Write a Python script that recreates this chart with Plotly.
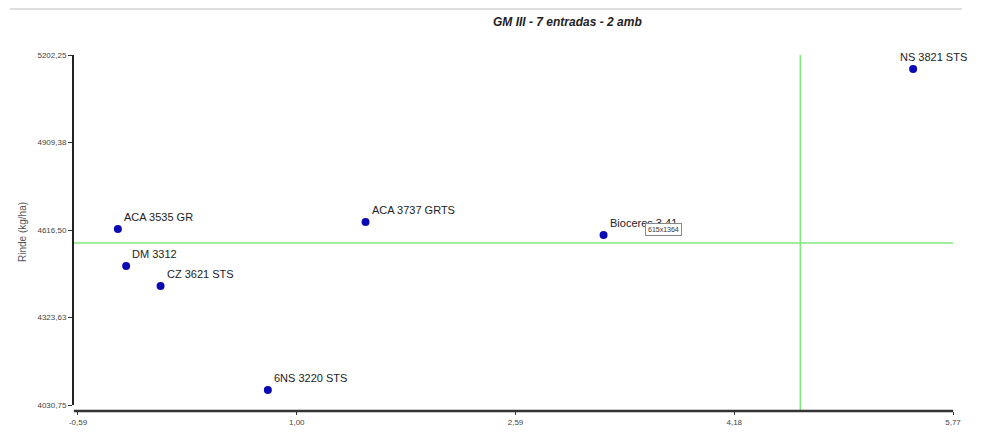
import plotly.graph_objects as go

# Data
names = ["ACA 3535 GR", "DM 3312", "CZ 3621 STS", "6NS 3220 STS", "ACA 3737 GRTS", "Bioceres 3.41", "NS 3821 STS"]
x_vals = [-0.30, -0.24, 0.01, 0.79, 1.50, 3.23, 5.48]
y_vals = [4620, 4496, 4429, 4081, 4643, 4600, 5155]

x_ticks = [-0.59, 1.00, 2.59, 4.18, 5.77]
x_ticktext = ["-0,59", "1,00", "2,59", "4,18", "5,77"]
y_ticks = [4030.75, 4323.63, 4616.50, 4909.38, 5202.25]
y_ticktext = ["4030,75", "4323,63", "4616,50", "4909,38", "5202,25"]

mean_x = 4.66
mean_y = 4573

x_range = [-0.6263, 5.857]
y_range = [4010.67, 5202.25]

fig = go.Figure()
fig.add_trace(go.Scatter(
    x=x_vals, y=y_vals, mode="markers",
    marker=dict(color="#0a0ab4", size=8),
    cliponaxis=False, showlegend=False, hoverinfo="skip"))

PW = 892.0  # plot width in px
PH = 356.0  # plot height in px

shapes = [
    # mean lines
    dict(type="line", xref="x", yref="y", x0=x_range[0], x1=5.77, y0=mean_y, y1=mean_y,
         line=dict(color="#7ee87e", width=1.5)),
    dict(type="line", xref="x", yref="paper", x0=mean_x, x1=mean_x, y0=0, y1=1,
         line=dict(color="#7ee87e", width=1.5)),
    # axis lines
    dict(type="line", xref="paper", yref="y", x0=0, x1=0, y0=4030.75, y1=5202.25,
         line=dict(color="#222222", width=2)),
    dict(type="line", xref="x", yref="paper", x0=-0.62, x1=5.77, y0=0, y1=0,
         line=dict(color="#333333", width=2.5)),
    # top divider
    dict(type="line", xref="paper", yref="paper",
         x0=(10 - 73) / PW, x1=(962 - 73) / PW, y0=(411 - 9) / PH, y1=(411 - 9) / PH,
         line=dict(color="#dddddd", width=2)),
]

annotations = []
for n, xv, yv in zip(names, x_vals, y_vals):
    xs = -15 if xv > 5 else 4
    annotations.append(dict(
        text=n, x=xv, y=yv, xref="x", yref="y", xanchor="left", yanchor="middle",
        xshift=xs, yshift=12, showarrow=False,
        font=dict(family="Liberation Sans, Arial", size=11, color="#222222")))

annotations += [
    dict(text="<b><i>GM III - 7 entradas - 2 amb</i></b>", xref="paper", yref="paper",
         x=(567 - 73) / PW, y=(411 - 22) / PH, xanchor="center", yanchor="middle",
         showarrow=False, font=dict(family="Liberation Sans, Arial", size=12, color="#222222")),
    dict(text="Rinde (kg/ha)", xref="paper", yref="paper", x=(22 - 73) / PW, y=(411 - 232) / PH,
         xanchor="center", yanchor="middle", textangle=-90, showarrow=False,
         font=dict(family="Liberation Sans, Arial", size=10, color="#555555")),
    dict(text="615x1364", xref="paper", yref="paper", x=(645 - 73) / PW, y=(411 - 229) / PH,
         xanchor="left", yanchor="middle", showarrow=False, bgcolor="white",
         bordercolor="#888888", borderwidth=1, borderpad=2,
         font=dict(family="Liberation Sans, Arial", size=7, color="#333333")),
]

fig.update_layout(
    width=975, height=424,
    margin=dict(l=65, r=18, t=47, b=21, autoexpand=False),
    paper_bgcolor="white", plot_bgcolor="white",
    shapes=shapes, annotations=annotations,
    xaxis=dict(range=x_range, tickvals=x_ticks, ticktext=x_ticktext, showgrid=False,
               zeroline=False, showline=False, ticks="outside", ticklen=3, tickcolor="#333",
               automargin=False,
               tickfont=dict(family="Liberation Sans, Arial", size=8, color="#444444")),
    yaxis=dict(range=y_range, tickvals=y_ticks, ticktext=y_ticktext, showgrid=False,
               zeroline=False, showline=False, ticks="outside", ticklen=4, tickcolor="#333",
               automargin=False,
               tickfont=dict(family="Liberation Sans, Arial", size=8, color="#444444")),
)

fig.write_html("out.html")
